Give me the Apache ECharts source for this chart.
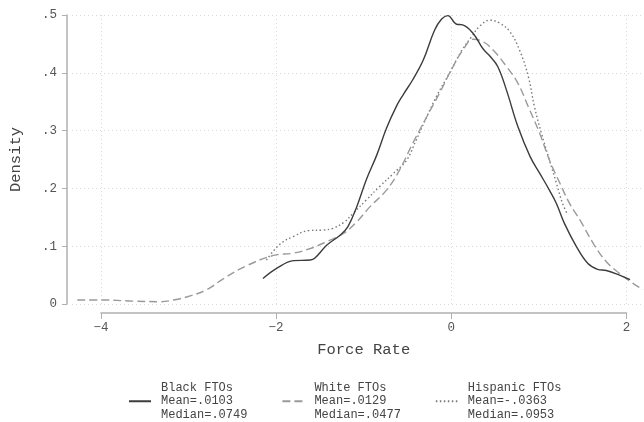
<!DOCTYPE html>
<html>
<head>
<meta charset="utf-8">
<script src="https://cdn.jsdelivr.net/npm/echarts@6/dist/echarts.min.js"></script>
<style>
  html, body { margin: 0; padding: 0; background: #fff; }
  #chart { width: 644px; height: 422px; }
</style>
</head>
<body>
<div id="chart"></div>
<script>
//-------------------数据--------------
var seriesNames = ['Black FTOs', 'White FTOs', 'Hispanic FTOs'];
var seriesMeans = ['.0103', '.0129', '-.0363'];
var seriesMedians = ['.0749', '.0477', '.0953'];

var blackX = [-2.15, -1.99, -1.80, -1.61, -1.56, -1.42, -1.27, -1.18, -1.08, -0.97, -0.85, -0.74, -0.62, -0.55, -0.44, -0.32, -0.19, -0.11, -0.04, 0.06, 0.13, 0.25, 0.36, 0.44, 0.53, 0.63, 0.76, 0.90, 1.01, 1.12, 1.20, 1.29, 1.43, 1.56, 1.67, 1.77, 1.92, 2.04];
var blackY = [0.044, 0.062, 0.075, 0.076, 0.079, 0.102, 0.119, 0.134, 0.168, 0.215, 0.258, 0.304, 0.344, 0.362, 0.388, 0.422, 0.474, 0.493, 0.499, 0.484, 0.483, 0.468, 0.442, 0.429, 0.411, 0.370, 0.307, 0.255, 0.226, 0.197, 0.174, 0.140, 0.099, 0.070, 0.060, 0.058, 0.050, 0.042];

var whiteX = [-4.27, -4.00, -3.63, -3.32, -3.17, -2.98, -2.79, -2.60, -2.34, -2.03, -1.80, -1.61, -1.42, -1.23, -1.08, -0.93, -0.74, -0.59, -0.44, -0.28, -0.13, 0.00, 0.13, 0.25, 0.36, 0.48, 0.63, 0.76, 0.88, 1.01, 1.12, 1.24, 1.35, 1.47, 1.62, 1.77, 1.92, 2.07, 2.19];
var whiteY = [0.007, 0.007, 0.005, 0.004, 0.007, 0.014, 0.025, 0.044, 0.066, 0.084, 0.088, 0.096, 0.108, 0.122, 0.142, 0.168, 0.197, 0.232, 0.278, 0.324, 0.366, 0.405, 0.439, 0.458, 0.454, 0.439, 0.411, 0.382, 0.341, 0.295, 0.249, 0.209, 0.174, 0.145, 0.105, 0.073, 0.053, 0.036, 0.025];

var hispX = [-2.11, -1.96, -1.80, -1.63, -1.46, -1.35, -1.22, -1.12, -0.97, -0.82, -0.66, -0.51, -0.40, -0.28, -0.17, 0.00, 0.12, 0.23, 0.32, 0.44, 0.55, 0.67, 0.78, 0.88, 0.95, 1.03, 1.12, 1.20, 1.27, 1.33];
var hispY = [0.076, 0.103, 0.117, 0.127, 0.128, 0.131, 0.142, 0.157, 0.180, 0.203, 0.226, 0.249, 0.284, 0.324, 0.359, 0.405, 0.439, 0.462, 0.480, 0.491, 0.486, 0.471, 0.439, 0.393, 0.341, 0.295, 0.249, 0.209, 0.174, 0.154];

var xTicks = [-4, -2, 0, 2];
var yTicks = [0, 0.1, 0.2, 0.3, 0.4, 0.5];

//-------------------处理逻辑------------------
function zip(xs, ys) {
  var out = [];
  for (var i = 0; i < xs.length; i++) out.push([xs[i], ys[i]]);
  return out;
}

var font = '"Liberation Mono", "Courier New", monospace';
var xMin = -4.33, xMax = 2.2;
var gridLeft = 72, gridRight = 0, gridTop = 15, gridBottom = 118;
var plotWidth = 644 - gridLeft - gridRight;
// second grid only carries the visible x axis, spanning the first to last tick
var axisLeft = gridLeft + (xTicks[0] - xMin) / (xMax - xMin) * plotWidth;
var axisRight = gridRight + (xMax - xTicks[xTicks.length - 1]) / (xMax - xMin) * plotWidth;

var lineStyles = [
  { color: '#3c3c3c', width: 1.4, type: 'solid' },
  { color: '#9a9a9a', width: 1.4, type: [8, 4] },
  { color: '#7a7a7a', width: 1.4, type: [1.5, 2.5] }
];
var seriesData = [zip(blackX, blackY), zip(whiteX, whiteY), zip(hispX, hispY)];

var series = [];
for (var s = 0; s < seriesNames.length; s++) {
  series.push({
    name: seriesNames[s],
    type: 'line',
    xAxisIndex: 0,
    yAxisIndex: 0,
    showSymbol: false,
    symbol: 'none',
    smooth: 0.4,
    lineStyle: lineStyles[s],
    itemStyle: { color: lineStyles[s].color },
    data: seriesData[s],
    z: 10 - s
  });
}

//-------------------配置--------------
var option = {
  animation: false,
  backgroundColor: '#fff',
  grid: [
    { left: gridLeft, right: gridRight, top: gridTop, bottom: gridBottom },
    { left: axisLeft, right: axisRight, top: gridTop, bottom: gridBottom }
  ],
  xAxis: [
    { gridIndex: 0, type: 'value', min: xMin, max: xMax, show: false },
    {
      gridIndex: 1, type: 'value', min: xTicks[0], max: xTicks[xTicks.length - 1], interval: 2,
      offset: 9,
      name: 'Force Rate', nameLocation: 'middle', nameGap: 29,
      nameTextStyle: { fontFamily: font, fontSize: 15.5, color: '#444' },
      axisLine: { onZero: false, lineStyle: { color: '#b0b0b0', width: 1.5 } },
      axisTick: { length: 6, lineStyle: { color: '#b0b0b0' } },
      axisLabel: {
        margin: 8, fontFamily: font, fontSize: 12.5, color: '#555',
        formatter: function (v) { return String(v).replace('-', '\u2212'); }
      },
      splitLine: { show: true, lineStyle: { color: '#dadada', type: [1, 3] } }
    }
  ],
  yAxis: [
    {
      gridIndex: 0, type: 'value', min: yTicks[0], max: yTicks[yTicks.length - 1], interval: 0.1,
      offset: 5,
      name: 'Density', nameLocation: 'middle', nameGap: 43, nameRotate: 90,
      nameTextStyle: { fontFamily: font, fontSize: 15.5, color: '#444' },
      axisLine: { show: true, onZero: false, lineStyle: { color: '#b0b0b0', width: 1.5 } },
      axisTick: { show: true, length: 5, lineStyle: { color: '#b0b0b0' } },
      axisLabel: {
        margin: 10, fontFamily: font, fontSize: 12.5, color: '#555',
        formatter: function (v) { return v === 0 ? '0' : v.toFixed(1).replace(/^0/, ''); }
      },
      splitLine: { show: true, lineStyle: { color: '#dadada', type: [1, 3] } }
    },
    { gridIndex: 1, type: 'value', min: 0, max: 0.5, show: false }
  ],
  legend: {
    left: 123,
    top: 376,
    orient: 'horizontal',
    itemWidth: 22,
    itemHeight: 10,
    itemGap: 34,
    data: seriesNames,
    itemStyle: { opacity: 0 },
    formatter: function (name) {
      var i = seriesNames.indexOf(name);
      return name + '\nMean=' + seriesMeans[i] + '\nMedian=' + seriesMedians[i];
    },
    textStyle: { fontFamily: font, fontSize: 12, lineHeight: 13.5, color: '#444', padding: [0, 0, 0, 5] }
  },
  series: series
};

echarts.init(document.getElementById('chart'), null, { renderer: 'canvas' }).setOption(option);
</script>
</body>
</html>
